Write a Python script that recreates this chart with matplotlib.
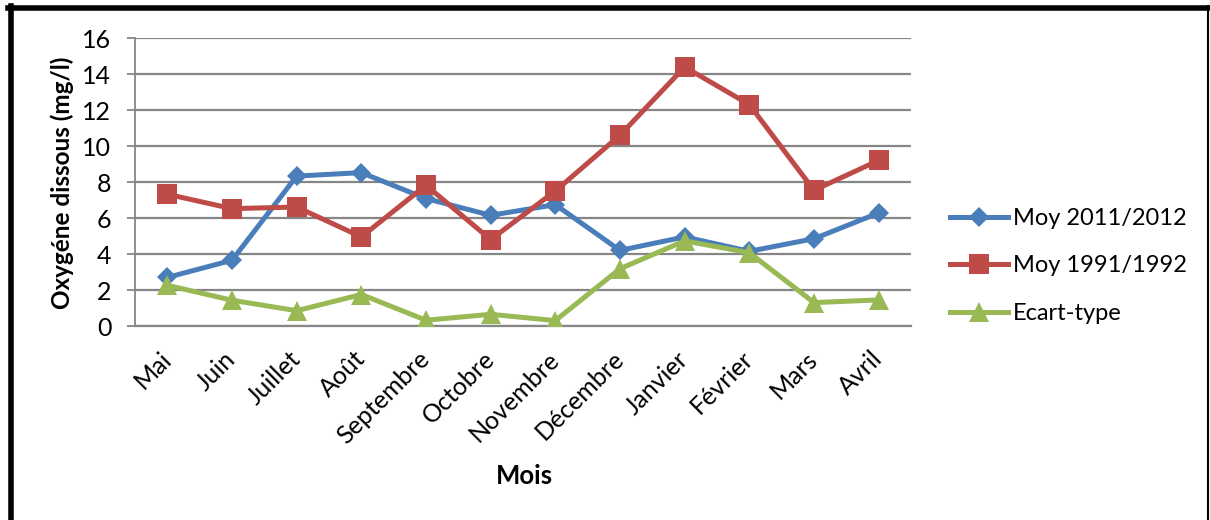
import matplotlib
matplotlib.use("Agg")
import matplotlib.pyplot as plt
from matplotlib.lines import Line2D

mois = ["Mai", "Juin", "Juillet", "Août", "Septembre", "Octobre", "Novembre",
        "Décembre", "Janvier", "Février", "Mars", "Avril"]
moy_2011_2012 = [2.7, 3.65, 8.33, 8.52, 7.08, 6.15, 6.74, 4.2, 4.95, 4.15, 4.85, 6.28]
moy_1991_1992 = [7.32, 6.52, 6.61, 4.95, 7.82, 4.8, 7.5, 10.6, 14.39, 12.3, 7.54, 9.2]
ecart_type = [2.26, 1.43, 0.85, 1.75, 0.32, 0.65, 0.3, 3.18, 4.73, 4.07, 1.3, 1.45]
y_ticks = [0, 2, 4, 6, 8, 10, 12, 14, 16]

plt.rcParams["font.family"] = ["Lato", "DejaVu Sans"]
FS = 18

W, H = 1210, 520
fig = plt.figure(figsize=(W / 100, H / 100), dpi=100)
ax = fig.add_axes([135 / W, 1 - 326 / H, (911 - 135) / W, (326 - 38) / H])

x = list(range(len(mois)))
blue, red, green = "#4A7EBB", "#BE4B48", "#98B954"
ax.plot(x, moy_2011_2012, color=blue, lw=3.6, marker="D", ms=10, mew=0,
        label="Moy 2011/2012", zorder=3)
ax.plot(x, moy_1991_1992, color=red, lw=3.6, marker="s", ms=14, mew=0,
        label="Moy 1991/1992", zorder=3)
ax.plot(x, ecart_type, color=green, lw=3.6, marker="^", ms=15, mew=0,
        label="Ecart-type", zorder=3)

ax.set_xlim(-0.5, len(mois) - 0.5)
ax.set_ylim(0, 16)
ax.set_yticks(y_ticks)
ax.set_xticks(x)
ax.set_xticklabels(mois, rotation=45, rotation_mode="anchor", ha="right",
                   va="center", fontsize=FS)
ax.tick_params(axis="x", length=0, pad=21)
ax.tick_params(axis="y", length=6, width=1.3, color="#868686", pad=11,
               labelsize=FS)
ax.grid(axis="y", color="#868686", lw=1.6, zorder=0)
for side in ["top", "right"]:
    ax.spines[side].set_visible(False)
ax.spines["left"].set_color("#868686")
ax.spines["left"].set_linewidth(1.3)
ax.spines["bottom"].set_color("#868686")
ax.spines["bottom"].set_linewidth(1.6)

fig.text(62 / W, 1 - 183 / H, "Oxygéne dissous (mg/l)", rotation=90,
         ha="center", va="center", fontsize=17.5, fontweight="bold")
fig.text(524 / W, 1 - 476 / H, "Mois", ha="center", va="center",
         fontsize=18.5, fontweight="bold")

ax.legend(loc="center left", bbox_to_anchor=(950 / W, 1 - 266 / H),
          bbox_transform=fig.transFigure, frameon=False, fontsize=17,
          handlelength=2.45, handletextpad=0.2, labelspacing=1.13,
          borderpad=0, borderaxespad=0)

# outer frame
fig.add_artist(Line2D([8 / W, 1209 / W], [1 - 7.5 / H, 1 - 7.5 / H],
                      transform=fig.transFigure, color="black", lw=4))
fig.add_artist(Line2D([10.5 / W, 10.5 / W], [0, 1 - 6 / H],
                      transform=fig.transFigure, color="black", lw=4))
fig.add_artist(Line2D([1208 / W, 1208 / W], [0, 1 - 6 / H],
                      transform=fig.transFigure, color="black", lw=1.5))

fig.savefig("out.png", dpi=100)
